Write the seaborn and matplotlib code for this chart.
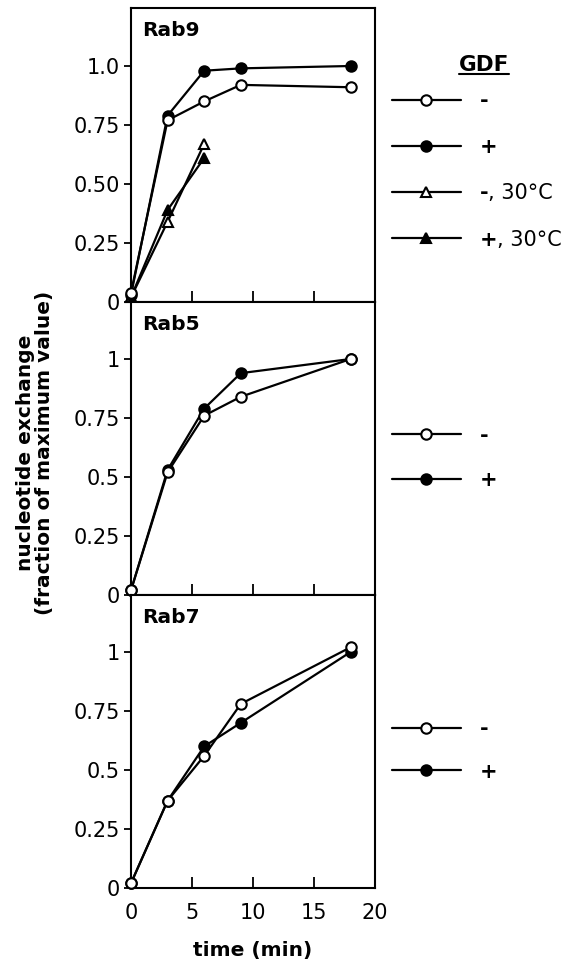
"""
Nucleotide exchange time courses for Rab9, Rab5 and Rab7, with and without GDF.
Three stacked panels sharing the time axis, legend to the right of each panel.
"""

import matplotlib
matplotlib.use("Agg")
import matplotlib.pyplot as plt
import seaborn as sns
from matplotlib.lines import Line2D
from matplotlib.transforms import IdentityTransform

# ---- data ----
TIME = [0, 3, 6, 9, 18]
TIME_30C = [0, 3, 6]

RAB9_MINUS = [0.04, 0.77, 0.85, 0.92, 0.91]
RAB9_PLUS = [0.03, 0.79, 0.98, 0.99, 1.00]
RAB9_MINUS_30C = [0.02, 0.34, 0.67]
RAB9_PLUS_30C = [0.02, 0.39, 0.61]

RAB5_MINUS = [0.02, 0.52, 0.76, 0.84, 1.00]
RAB5_PLUS = [0.02, 0.53, 0.79, 0.94, 1.00]

RAB7_MINUS = [0.02, 0.37, 0.56, 0.78, 1.02]
RAB7_PLUS = [0.02, 0.37, 0.60, 0.70, 1.00]

PANELS = ["Rab9", "Rab5", "Rab7"]
X_TICKS = [0, 5, 10, 15, 20]
Y_TICKS = [0, 0.25, 0.5, 0.75, 1.0]
Y_TICKLABELS_TOP = ["0", "0.25", "0.50", "0.75", "1.0"]
Y_TICKLABELS = ["0", "0.25", "0.5", "0.75", "1"]

sns.set_style("ticks")
plt.rcParams["font.family"] = ["DejaVu Sans"]
plt.rcParams["text.color"] = "black"
plt.rcParams["axes.labelcolor"] = "black"

W, H = 564, 963
fig = plt.figure(figsize=(W / 100, H / 100), dpi=100)

# panel boxes in pixels: (top, bottom)
left_px, right_px = 131, 375
boxes = [(8, 302), (302, 595), (595, 888)]
px_per_unit = 236.0

LW = 1.6
MS = 7.5
MEW = 1.5


def style(marker, filled):
    return dict(
        color="black", marker=marker, markersize=MS, markeredgewidth=MEW,
        markeredgecolor="black",
        markerfacecolor="black" if filled else "white",
        linewidth=LW, clip_on=False,
    )


def series(ax, x, y, marker, filled, z):
    sns.lineplot(x=x, y=y, ax=ax, zorder=z, legend=False, **style(marker, filled))


axes = []
for top, bot in boxes:
    ax = fig.add_axes([left_px / W, 1 - bot / H,
                       (right_px - left_px) / W, (bot - top) / H])
    ax.set_xlim(0, 20)
    ax.set_ylim(0, (bot - top) / px_per_unit)
    axes.append(ax)

ax9, ax5, ax7 = axes

series(ax9, TIME_30C, RAB9_PLUS_30C, "^", True, 3)
series(ax9, TIME_30C, RAB9_MINUS_30C, "^", False, 4)
series(ax9, TIME, RAB9_PLUS, "o", True, 5)
series(ax9, TIME, RAB9_MINUS, "o", False, 6)

series(ax5, TIME, RAB5_PLUS, "o", True, 5)
series(ax5, TIME, RAB5_MINUS, "o", False, 6)

series(ax7, TIME, RAB7_PLUS, "o", True, 5)
series(ax7, TIME, RAB7_MINUS, "o", False, 6)

for i, (ax, name) in enumerate(zip(axes, PANELS)):
    for sp in ax.spines.values():
        sp.set_linewidth(1.5)
        sp.set_color("black")
    ax.set_yticks(Y_TICKS)
    ax.set_yticklabels(Y_TICKLABELS_TOP if i == 0 else Y_TICKLABELS)
    ax.set_xticks(X_TICKS)
    ax.tick_params(axis="y", direction="out", length=5, width=1.3,
                   labelsize=15, pad=3, colors="black")
    ax.tick_params(axis="x", direction="in", length=8, width=1.3,
                   labelsize=15, pad=11, colors="black")
    if i < 2:
        ax.tick_params(axis="x", labelbottom=False)
    ax.set_xlabel("")
    ax.set_ylabel("")
    ax.text(0.045, 0.955, name, transform=ax.transAxes, ha="left", va="top",
            fontsize=14.5, fontweight="bold", color="black")

ax7.set_xlabel("time (min)", fontsize=14.5, fontweight="bold", labelpad=13,
               color="black")

fig.text(35 / W, 1 - 453 / H,
         "nucleotide exchange\n(fraction of maximum value)",
         rotation=90, ha="center", va="center", multialignment="center",
         fontsize=14.5, fontweight="bold", linespacing=1.05, color="black")


def handle(marker, filled):
    return Line2D([], [], **style(marker, filled))


labels_top = ["-", "+", "-", "+"]
handles_top = [handle("o", False), handle("o", True),
               handle("^", False), handle("^", True)]
labels_two = ["-", "+"]
handles_two = [handle("o", False), handle("o", True)]

leg_cfg = [
    (ax9, handles_top, labels_top, 0.448, 1.26),
    (ax5, handles_two, labels_two, 0.468, 1.17),
    (ax7, handles_two, labels_two, 0.47, 1.1),
]
legends = []
for ax, hs, ls, yc, sp in leg_cfg:
    leg = ax.legend(hs, ls, loc="center left",
                    bbox_to_anchor=((392 - left_px) / (right_px - left_px), yc),
                    frameon=False, fontsize=15, handlelength=3.3,
                    handletextpad=0.9, labelspacing=sp, borderpad=0,
                    borderaxespad=0, numpoints=1)
    for t in leg.get_texts():
        t.set_fontweight("bold")
        t.set_color("black")
    legends.append(leg)

gdf = fig.text(484 / W, 1 - 65 / H, "GDF", ha="center", va="center",
               fontsize=15.5, fontweight="bold", color="black")

fig.canvas.draw()
bb = gdf.get_window_extent()
fig.add_artist(Line2D([bb.x0, bb.x1], [bb.y0 + 1, bb.y0 + 1],
                      transform=IdentityTransform(), color="black", linewidth=1.5))

# regular-weight suffix for the 30 °C entries
for t in legends[0].get_texts()[2:]:
    tb = t.get_window_extent()
    fig.text(tb.x1, tb.y0, ", 30°C", transform=IdentityTransform(),
             ha="left", va="bottom", fontsize=15, color="black")

fig.savefig("out.png", dpi=100)
